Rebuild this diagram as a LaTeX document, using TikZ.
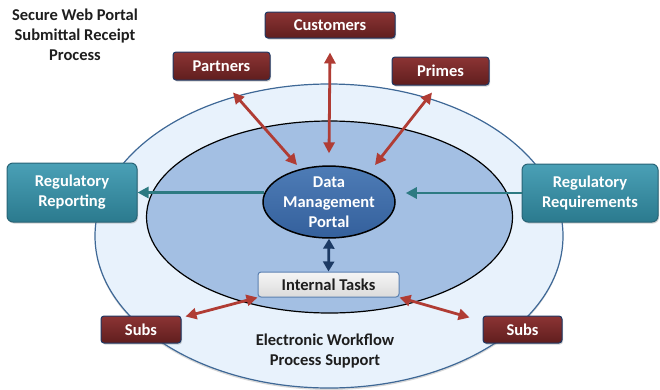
\documentclass[tikz,border=0pt]{standalone}
\usepackage{fontspec}
\setmainfont{Carlito}
\usetikzlibrary{shapes.geometric,arrows.meta,calc,shadows}
\definecolor{boxredtop}{RGB}{140,52,52}
\definecolor{boxredbot}{RGB}{96,30,30}
\definecolor{arrred}{RGB}{176,60,52}
\definecolor{navyedge}{RGB}{31,56,100}
\definecolor{tealtop}{RGB}{74,160,182}
\definecolor{tealbot}{RGB}{43,122,142}
\definecolor{tealedge}{RGB}{40,100,118}
\definecolor{tealarrow}{RGB}{45,122,130}
\definecolor{navyarrow}{RGB}{28,58,100}
\definecolor{outerfill}{RGB}{232,242,252}
\definecolor{outeredge}{RGB}{62,104,150}
\definecolor{innerfill}{RGB}{163,191,227}
\definecolor{portaltop}{RGB}{78,124,182}
\definecolor{portalbot}{RGB}{52,96,156}
\definecolor{taskedge}{RGB}{90,128,176}
\definecolor{txtdark}{RGB}{30,30,30}
\tikzset{
  redbox/.style={draw=navyedge, line width=1pt, rounded corners=3pt,
    top color=boxredtop, bottom color=boxredbot, text=white,
    font=\fontsize{16.5}{20}\selectfont\bfseries, inner sep=0pt,
    drop shadow={opacity=0.35, shadow xshift=1pt, shadow yshift=-1.5pt}},
  tealbox/.style={draw=tealedge, line width=1pt, rounded corners=6pt,
    top color=tealtop, bottom color=tealbot, text=white, align=center,
    font=\fontsize{16.5}{20}\selectfont\bfseries, inner sep=0pt,
    drop shadow={opacity=0.35, shadow xshift=1pt, shadow yshift=-1.5pt}},
  redarr/.style={draw=arrred, line width=2.8pt,
    {Triangle[width=11pt,length=11pt]}-{Triangle[width=11pt,length=11pt]}},
  tealarr/.style={draw=tealarrow, line width=2.8pt, -{Triangle[width=11pt,length=11pt]}},
  navyarr/.style={draw=navyarrow, line width=2.8pt,
    {Triangle[width=11pt,length=10pt]}-{Triangle[width=11pt,length=10pt]}},
  plaintext/.style={text=txtdark, align=center, font=\fontsize{16.5}{20}\selectfont\bfseries}
}
\begin{document}
\begin{tikzpicture}[x=1pt,y=-1pt]
\path[use as bounding box] (0,0) rectangle (660,389);
% ellipses
\node[ellipse, draw=outeredge, line width=1.2pt, fill=outerfill,
  minimum width=468pt, minimum height=304pt, inner sep=0pt,
  drop shadow={opacity=0.3, shadow xshift=0pt, shadow yshift=-2pt}] (outer) at (329,236) {};
\node[ellipse, draw=black, line width=1.2pt, fill=innerfill,
  minimum width=366pt, minimum height=192pt, inner sep=0pt] (inner) at (329.5,217) {};
% labels
\node[plaintext] (title) at (75,35) {Secure Web Portal\\Submittal Receipt\\Process};
\node[plaintext] (bottomtxt) at (325,350.5) {Electronic Workflow\\Process Support};
% nodes
\node[redbox, minimum width=130pt, minimum height=26pt] (cust) at (330,25) {Customers};
\node[redbox, minimum width=97pt, minimum height=28pt] (partners) at (221.5,66) {Partners};
\node[redbox, minimum width=97pt, minimum height=28pt] (primes) at (440.5,71) {Primes};
\node[tealbox, minimum width=130pt, minimum height=59pt] (regrep) at (72,192.5) {Regulatory\\Reporting};
\node[tealbox, minimum width=136pt, minimum height=58pt] (regreq) at (590,193) {Regulatory\\Requirements};
\node[redbox, minimum width=80pt, minimum height=27pt] (subsL) at (141,329.5) {Subs};
\node[redbox, minimum width=79pt, minimum height=27pt] (subsR) at (522.5,329.5) {Subs};
\node[draw=taskedge, line width=1pt, rounded corners=3pt, top color=gray!8, bottom color=gray!28,
  text=txtdark, font=\fontsize{16.5}{20}\selectfont\bfseries, inner sep=0pt,
  minimum width=141pt, minimum height=25pt] (tasks) at (328.5,284.5) {Internal Tasks};
% teal arrows (behind portal)
\draw[tealarr] ($(regrep.east -| inner.center)+(-66,0)$) -- (regrep.east);
\node[ellipse, draw=black, line width=1.5pt, top color=portaltop, bottom color=portalbot,
  text=white, align=center, font=\fontsize{16.5}{20}\selectfont\bfseries,
  minimum width=132pt, minimum height=69pt, inner sep=0pt] (portal) at (329,202)
  {Data\\Management\\Portal};
\draw[tealarr] (regreq.west) -- ($(portal.east |- regreq.west)+(10,0)$);
% red arrows
\draw[redarr] ($(cust.south)+(0,14)$) -- ($(portal.north)+(0,-12)$);
\draw[redarr] ($(partners.south)+(11.5,12)$) -- ($(portal.center)+(-32,-37)$);
\draw[redarr] ($(primes.south)+(-8.5,7)$) -- ($(portal.center)+(46,-37)$);
\draw[redarr] ($(subsL.north east)+(4,1)$) -- (tasks.south west);
\draw[redarr] (tasks.south east) -- ($(subsR.north west)+(-13,2)$);
% navy arrow
\draw[navyarr] (portal.south) -- (tasks.north);
\end{tikzpicture}
\end{document}
